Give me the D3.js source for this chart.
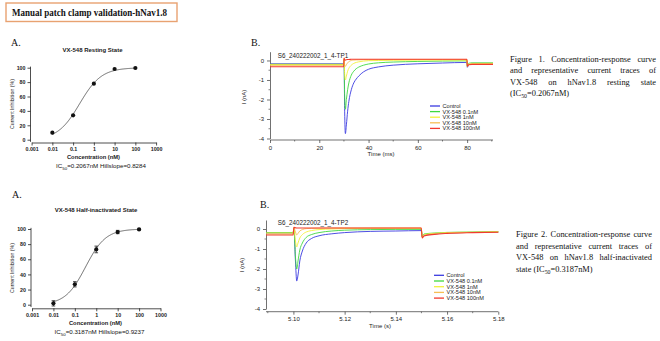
<!DOCTYPE html>
<html><head><meta charset="utf-8">
<script src="https://cdn.jsdelivr.net/npm/d3@7"></script>
<style>
html,body{margin:0;padding:0;background:#fff;}
svg{display:block;}
</style>
</head><body>
<svg id="c" width="660" height="341"></svg>
<script>
// ---------- DATA ----------
const concentrations = [0.01, 0.1, 1, 10, 100];
const concTicks = [0.001, 0.01, 0.1, 1, 10, 100, 1000];
const concTickLabels = ["0.001", "0.01", "0.1", "1", "10", "100", "1000"];
const inhibTicks = [0, 20, 40, 60, 80, 100];
const restingInhibition = [9.7, 33.9, 77.8, 98.2, 99.6];
const halfInhibition = [1.8, 27, 73, 96, 99.5];
const halfError = [3.5, 3.5, 4.4, 2.2, 0.8];
const restingIC50 = 0.2067, restingHill = 0.8284;
const halfIC50 = 0.3187, halfHill = 0.9237;

const seriesNames = ["Control", "VX-548 0.1nM", "VX-548 1nM", "VX-548 10nM", "VX-548 100nM"];
const seriesColors = ["#3a3ae0", "#3fd83f", "#f2f23a", "#f7bf55", "#f23a2e"];

// Trace 1 (resting state), time in ms, current in nA
const time1 = [0, 29.9, 30.05, 30.3, 30.6, 31, 31.5, 32, 33, 34, 35, 36, 38, 40, 44, 50, 60, 70, 79.9, 80.1, 80.6, 82, 90.5];
const trace1 = [
  [-0.17,-0.17,0.05,-2.6,-3.75,-3.3,-2.6,-2.1,-1.5,-1.15,-0.95,-0.8,-0.58,-0.45,-0.33,-0.24,-0.17,-0.13,-0.1,-0.35,-0.22,-0.18,-0.17],
  [-0.2,-0.2,0.05,-1.8,-2.5,-2.0,-1.5,-1.15,-0.75,-0.55,-0.42,-0.34,-0.24,-0.18,-0.12,-0.08,-0.05,-0.03,-0.02,-0.3,-0.15,-0.12,-0.12],
  [-0.2,-0.2,0.08,-0.7,-1.0,-0.8,-0.55,-0.4,-0.24,-0.15,-0.1,-0.07,-0.03,-0.01,0.0,0.01,0.02,0.02,0.02,-0.3,-0.18,-0.16,-0.15],
  [-0.25,-0.25,0.1,-0.2,-0.3,-0.22,-0.12,-0.06,0.0,0.02,0.03,0.03,0.04,0.04,0.04,0.05,0.05,0.05,0.05,-0.3,-0.2,-0.18,-0.18],
  [-0.32,-0.32,0.12,0.05,0.02,0.04,0.05,0.05,0.06,0.06,0.06,0.06,0.06,0.06,0.06,0.06,0.06,0.06,0.06,-0.3,-0.22,-0.2,-0.2]
];
const time1Ticks = [0, 20, 40, 60, 80];

// Trace 2 (half-inactivated state), time in s
const time2 = [5.0893, 5.0999, 5.1002, 5.1008, 5.1013, 5.1018, 5.1025, 5.1035, 5.105, 5.107, 5.11, 5.115, 5.12, 5.13, 5.14, 5.1499, 5.1503, 5.151, 5.155, 5.16, 5.17, 5.18];
const trace2 = [
  [-0.2,-0.2,0.05,-1.6,-2.6,-2.3,-1.6,-1.1,-0.7,-0.48,-0.34,-0.24,-0.18,-0.12,-0.1,-0.08,-0.4,-0.32,-0.25,-0.2,-0.17,-0.15],
  [-0.18,-0.18,0.05,-1.4,-2.0,-1.6,-1.05,-0.7,-0.42,-0.28,-0.18,-0.1,-0.06,-0.03,-0.02,-0.02,-0.35,-0.25,-0.2,-0.17,-0.15,-0.13],
  [-0.2,-0.2,0.06,-0.6,-0.9,-0.7,-0.45,-0.28,-0.15,-0.08,-0.03,0.0,0.02,0.03,0.03,0.03,-0.4,-0.28,-0.22,-0.18,-0.16,-0.14],
  [-0.25,-0.25,0.08,-0.15,-0.3,-0.22,-0.1,-0.03,0.02,0.03,0.04,0.05,0.05,0.05,0.05,0.05,-0.42,-0.3,-0.24,-0.2,-0.17,-0.15],
  [-0.3,-0.3,0.08,0.06,0.05,0.05,0.05,0.05,0.05,0.05,0.05,0.05,0.05,0.05,0.05,0.05,-0.45,-0.35,-0.27,-0.22,-0.18,-0.16]
];
const time2Ticks = [5.10, 5.12, 5.14, 5.16, 5.18];
const currentTicks = [0, -1, -2, -3, -4];

const caption1 = ["Figure 1. Concentration-response curve", "and representative current traces of", "VX-548 on hNav1.8 resting state", "(IC_50=0.2067nM)"];
const caption2 = ["Figure 2. Concentration-response curve", "and representative current traces of", "VX-548 on hNav1.8 half-inactivated", "state (IC_50=0.3187nM)"];

// ---------- DRAW ----------
const svg = d3.select("#c");
const SANS = "'Liberation Sans', Arial, sans-serif";
const SERIF = "'Liberation Serif', 'Times New Roman', serif";

// Header box
svg.append("rect").attr("x", 6).attr("y", 3).attr("width", 171).attr("height", 18.5)
  .attr("fill", "none").attr("stroke", "#e8a271").attr("stroke-width", 1.4);
svg.append("text").attr("x", 12).attr("y", 15.8).attr("font-family", SERIF).attr("font-weight", "bold")
  .attr("font-size", 9.6).attr("fill", "#111").attr("textLength", 155).attr("lengthAdjust", "spacingAndGlyphs")
  .text("Manual patch clamp validation-hNav1.8");

function letter(x, y, t) {
  svg.append("text").attr("x", x).attr("y", y).attr("font-family", SERIF).attr("font-size", 10)
    .attr("fill", "#111").text(t);
}
letter(11, 46, "A.");
letter(12, 198, "A.");
letter(251, 46, "B.");
letter(260, 208, "B.");

function doseResponse(o) {
  const g = svg.append("g");
  const x = d3.scaleLog().domain([0.001, 1000]).range(o.xr);
  const y = d3.scaleLinear().domain([0, 100]).range(o.yr);
  const ya = g.append("g").attr("transform", `translate(${o.yAxisX},0)`)
    .call(d3.axisLeft(y).tickValues(inhibTicks).tickSize(3).tickPadding(2).tickSizeOuter(0));
  ya.select(".domain").attr("d", `M0,${y(-3)}V${y(101.5)}`);
  const xa = g.append("g").attr("transform", `translate(0,${o.xAxisY})`)
    .call(d3.axisBottom(x).tickValues(concTicks).tickFormat((d, i) => concTickLabels[i]).tickSize(3).tickPadding(1.5).tickSizeOuter(0));
  [ya, xa].forEach(a => {
    a.selectAll("text").attr("font-family", SANS).attr("font-size", 5.3).attr("font-weight", "bold").attr("fill", "#222");
    a.selectAll("line,path").attr("stroke", "#222").attr("stroke-width", 0.8);
  });
  // fit curve (Hill equation with the printed IC50 / Hillslope)
  const xs = d3.range(0, 201).map(i => Math.pow(10, -2 + 4 * i / 200));
  const pts = xs.map(c => [c, 100 / (1 + Math.pow(o.ic50 / c, o.hill))]);
  g.append("path").datum(pts).attr("fill", "none").attr("stroke", "#444").attr("stroke-width", 0.8)
    .attr("d", d3.line().x(d => x(d[0])).y(d => y(d[1])));
  if (o.err) {
    concentrations.forEach((c, i) => {
      const cx = x(c), y1 = y(o.vals[i] - o.err[i]), y2 = y(o.vals[i] + o.err[i]);
      g.append("path").attr("d", `M${cx},${y1}V${y2}M${cx - 1.8},${y1}H${cx + 1.8}M${cx - 1.8},${y2}H${cx + 1.8}`)
        .attr("stroke", "#222").attr("stroke-width", 0.8).attr("fill", "none");
    });
  }
  g.selectAll("circle.pt").data(concentrations).join("circle").attr("class", "pt")
    .attr("cx", d => x(d)).attr("cy", (d, i) => y(o.vals[i])).attr("r", 2.1).attr("fill", "#111");
  g.append("text").attr("x", o.titleX).attr("y", o.titleY).attr("text-anchor", "middle")
    .attr("font-family", SANS).attr("font-weight", "bold").attr("font-size", 6).attr("fill", "#222").text(o.title);
  g.append("text").attr("x", o.xlabX).attr("y", o.xlabY).attr("text-anchor", "middle")
    .attr("font-family", SANS).attr("font-weight", "bold").attr("font-size", 5.8).attr("fill", "#222").text("Concentration (nM)");
  g.append("text").attr("transform", `translate(${o.ylabX},${o.ylabY}) rotate(-90)`).attr("text-anchor", "middle")
    .attr("font-family", SANS).attr("font-size", 5.3).attr("fill", "#222").text("Current Inhibition (%)");
  const t = g.append("text").attr("x", o.icX).attr("y", o.icY).attr("text-anchor", "middle")
    .attr("font-family", SANS).attr("font-size", 6.2).attr("fill", "#111");
  t.append("tspan").text("IC");
  t.append("tspan").attr("font-size", 4.4).attr("dy", 1.5).text("50");
  t.append("tspan").attr("dy", -1.5).text(`=${o.ic50}nM Hillslope=${o.hill}`);
}

doseResponse({xr: [31.6, 156.1], yr: [139.7, 67.7], yAxisX: 30.5, xAxisY: 142.5, vals: restingInhibition,
  ic50: restingIC50, hill: restingHill, title: "VX-548 Resting State", titleX: 92.5, titleY: 52,
  xlabX: 93.5, xlabY: 159, ylabX: 14, ylabY: 104, icX: 101, icY: 168});
doseResponse({xr: [32, 160.5], yr: [304.7, 229], yAxisX: 31, xAxisY: 308.3, vals: halfInhibition, err: halfError,
  ic50: halfIC50, hill: halfHill, title: "VX-548 Half-inactivated State", titleX: 96, titleY: 212,
  xlabX: 95.5, xlabY: 325, ylabX: 14, ylabY: 268, icX: 99.5, icY: 334});

function tracePanel(o) {
  const g = svg.append("g");
  const x = d3.scaleLinear().domain(o.xd).range(o.xr);
  const y = d3.scaleLinear().domain([-4, 0.45]).range(o.yr);
  const ya = g.append("g").attr("transform", `translate(${o.xr[0]},0)`)
    .call(d3.axisLeft(y).tickValues(currentTicks).tickFormat(d => d === 0 ? "0" : "-" + Math.abs(d)).tickSize(3).tickPadding(3).tickSizeOuter(0));
  const xa = g.append("g").attr("transform", `translate(0,${o.xAxisY})`)
    .call(d3.axisBottom(x).tickValues(o.xTicks).tickFormat(o.fmt).tickSize(3).tickPadding(2.5).tickSizeOuter(0));
  xa.select(".domain").attr("d", `M${o.xr[0]},0H${o.xr[1]}`);
  const ym = d3.range(-4, 0.01, 0.5).filter(v => Math.abs(v - Math.round(v)) > 0.1);
  g.selectAll("line.ym").data(ym).join("line").attr("x1", o.xr[0] - 1.5).attr("x2", o.xr[0])
    .attr("y1", d => y(d)).attr("y2", d => y(d)).attr("stroke", "#333").attr("stroke-width", 0.6);
  g.selectAll("line.xm").data(o.xMinor).join("line").attr("x1", d => x(d)).attr("x2", d => x(d))
    .attr("y1", o.xAxisY).attr("y2", o.xAxisY + 1.5).attr("stroke", "#333").attr("stroke-width", 0.6);
  [ya, xa].forEach(a => {
    a.selectAll("text").attr("font-family", SANS).attr("font-size", 6).attr("fill", "#222");
    a.selectAll("line,path").attr("stroke", "#333").attr("stroke-width", 0.7);
  });
  const line = d3.line().x(d => x(d[0])).y(d => y(d[1])).curve(d3.curveMonotoneX);
  o.data.forEach((vals, si) => {
    g.append("path").datum(o.time.map((t, i) => [t, vals[i]])).attr("fill", "none")
      .attr("stroke", seriesColors[si]).attr("stroke-width", si === 4 ? 1.1 : 0.9).attr("d", line);
  });
  g.append("text").attr("x", o.titleX).attr("y", o.titleY).attr("text-anchor", "middle")
    .attr("font-family", SANS).attr("font-size", 6.3).attr("fill", "#222").text(o.title);
  g.append("text").attr("x", o.xlabX).attr("y", o.xlabY).attr("text-anchor", "middle")
    .attr("font-family", SANS).attr("font-size", 6).attr("fill", "#222").text(o.xlab);
  g.append("text").attr("transform", `translate(${o.ylabX},${o.ylabY}) rotate(-90)`).attr("text-anchor", "middle")
    .attr("font-family", SANS).attr("font-size", 6).attr("fill", "#222").text("I (nA)");
  seriesNames.forEach((n, i) => {
    const yy = o.legY + i * o.legDy;
    g.append("line").attr("x1", o.legX).attr("x2", o.legX + 10).attr("y1", yy).attr("y2", yy)
      .attr("stroke", seriesColors[i]).attr("stroke-width", 1.3);
    g.append("text").attr("x", o.legX + 12.5).attr("y", yy + 2).attr("font-family", SANS).attr("font-size", 5.6)
      .attr("fill", "#222").text(n);
  });
}

tracePanel({xd: [0, 90.5], xr: [270, 493], yr: [138.5, 51.7], xAxisY: 140, time: time1, data: trace1,
  xTicks: time1Ticks, fmt: d3.format("d"), xMinor: d3.range(10, 91, 20),
  title: "S6_240222002_1_4-TP1", titleX: 313, titleY: 57.5, xlab: "Time (ms)", xlabX: 381, xlabY: 155.5,
  ylabX: 246, ylabY: 97, legX: 430, legY: 106, legDy: 5.6});
tracePanel({xd: [5.0893, 5.18], xr: [266, 498.3], yr: [309, 220], xAxisY: 311.7, time: time2, data: trace2,
  xTicks: time2Ticks, fmt: d3.format(".2f"), xMinor: [5.09, 5.11, 5.13, 5.15, 5.17],
  title: "S6_240222002_1_4-TP2", titleX: 313, titleY: 224.5, xlab: "Time (s)", xlabX: 380, xlabY: 328,
  ylabX: 244, ylabY: 265, legX: 434, legY: 275.3, legDy: 5.7});

// Captions (justified)
function caption(lines, x0, x1, y0, lh) {
  const fs = 8.4;
  lines.forEach((ln, li) => {
    const yy = y0 + li * lh;
    const words = ln.split(" ");
    const nodes = words.map(w => {
      const t = svg.append("text").attr("y", yy).attr("font-family", SERIF).attr("font-size", fs).attr("fill", "#111");
      if (w.includes("_50")) {
        const [a, b] = w.split("_50");
        t.append("tspan").text(a);
        t.append("tspan").attr("font-size", 5.8).attr("dy", 2).text("50");
        t.append("tspan").attr("dy", -2).text(b);
      } else t.text(w);
      return t;
    });
    let widths = nodes.map(n => n.node().getComputedTextLength());
    const sum = d3.sum(widths);
    const last = li === lines.length - 1;
    let gap = last ? fs * 0.25 : (x1 - x0 - sum) / (words.length - 1);
    if (!last && gap < 2.5) {
      // squeeze words slightly so that a minimum gap remains
      const k = (x1 - x0 - 2.5 * (words.length - 1)) / sum;
      nodes.forEach((n, i) => { n.attr("textLength", widths[i] * k).attr("lengthAdjust", "spacingAndGlyphs"); });
      widths = widths.map(w => w * k);
      gap = 2.5;
    }
    let cx = x0;
    nodes.forEach((n, i) => { n.attr("x", cx); cx += widths[i] + gap; });
  });
}
caption(caption1, 510, 656, 61.5, 11.6);
caption(caption2, 516, 652, 237, 11.6);
</script>
</body></html>
